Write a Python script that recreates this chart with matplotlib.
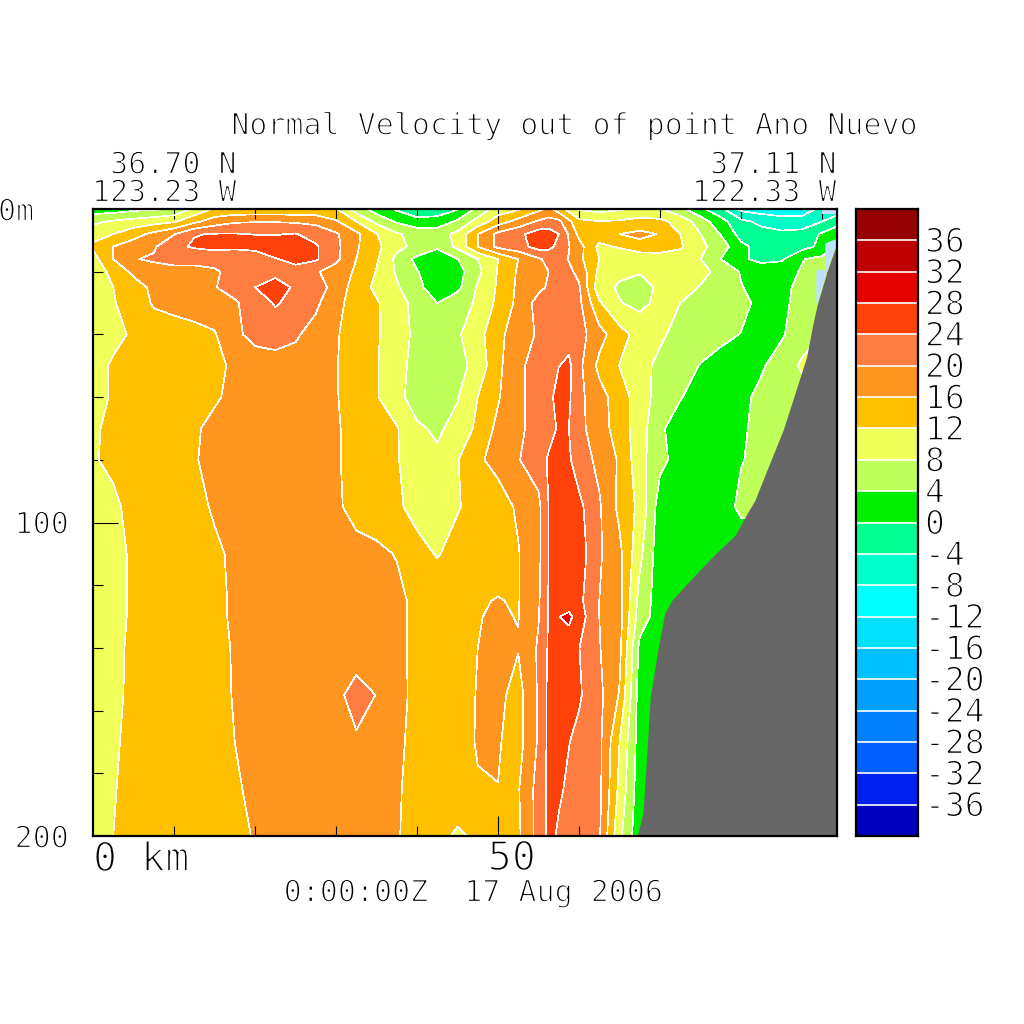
import numpy as np
import matplotlib
matplotlib.use("Agg")
import matplotlib.pyplot as plt
import matplotlib.patheffects as pe
from matplotlib.colors import ListedColormap, BoundaryNorm

# section axes
km = [0, 2.5, 5, 7.5, 10, 12.5, 15, 17.5, 20, 22.5, 25, 27.5, 30, 32.5, 35, 37.5, 40, 42.5, 45, 47.5,
      50, 52.5, 55, 56.25, 57.5, 58.75, 60, 62.5, 65, 67.5, 70, 72.5, 75, 77.5, 80, 82.5, 85, 87.5, 90, 91.85]
depth = [0, 4, 8, 12, 16, 20, 25, 30, 40, 50, 60, 70, 80, 95, 110, 125, 130, 140, 155, 170, 185, 200]

# normal velocity, one list per depth
v0 = [2, 2, 3, 3.5, 4.5, 9, 12.5, 13, 13, 13, 13, 13, 12.3, 6, 2, -0.5, -3, -2, -0.3, 5, 10, 11.5, 15,
      17, 14, 10.5, 7.5, 6.5, 7.5, 9, 8.3, 5, 1, -3, -9, -10, -10, -10, -7, -6]
v4 = [7, 8.5, 9.5, 10.5, 11.5, 15, 18, 19.5, 19.8, 19.8, 19.5, 19, 16.5, 12, 7, 3.5, 1.5, 1.5, 4.7, 9.5, 14, 17.5, 20.5,
      21.5, 21, 17, 13, 12.2, 12.5, 13.3, 13, 10.5, 6, 1.5, -3, -5, -6.5, -6.5, -4, -2]
v8 = [11, 12, 14.5, 17, 19.8, 23.8, 24.2, 24.2, 23.9, 23.8, 24.2, 22.5, 20.5, 17, 12.2, 8.5, 6.5, 6.5, 9, 16, 21, 23, 26,
      26, 24, 19.5, 15, 14.5, 16, 17, 15.8, 12, 8, 3.8, -1.5, -2.5, -3, -2.5, 0.5, 3]
v12 = [12.5, 16, 18, 19.5, 23, 24.5, 25.5, 25, 25.5, 26, 26, 24.5, 21, 16.5, 13, 9, 7, 4.5, 9, 16, 21, 22.5, 25.5,
       25, 23, 20.2, 17.5, 11, 12.5, 14.5, 14, 12.5, 9, 6, 1, -1.5, -2, -1.5, 1, 4]
v16 = [10.5, 16, 19.8, 20.5, 21, 20.5, 20.5, 20.5, 21, 23.8, 24.8, 24.5, 21, 16, 12.5, 7, 3, 2, 3.9, 7.9, 12, 16, 19.5,
       21, 21.5, 19.8, 17, 12, 8, 9, 10, 10, 8, 4, 1, -1.5, -0.5, 3.8, 5, 5]
v20 = [10, 13, 17, 18.5, 19, 19.5, 19.8, 20.5, 22, 23, 23, 20.5, 18, 15.5, 11.8, 7.5, 4.2, 2, 2.5, 7, 12.3, 16.5, 19,
       20, 21.5, 20.8, 19, 11, 8.8, 8.2, 9, 10, 9, 7, 3.7, 3.3, 2.5, 4.3, 5, 5]
v25 = [9.5, 12, 14, 17, 18, 19, 19.8, 21.5, 24, 25.5, 23.5, 22.5, 18, 14.5, 11, 8.5, 5, 2, 3, 8.5, 12.5, 16.8, 19,
       20.5, 22, 21, 20.5, 9.5, 7.5, 7, 8.5, 9.5, 7.8, 5.5, 4.2, 2.5, 3, 5, 6, 6]
v30 = [10, 11.8, 13.3, 16.5, 17, 17.5, 18, 19.5, 22, 24.3, 23, 20.8, 17, 14.5, 12.5, 9.2, 7, 4, 6.5, 8.5, 13, 17, 21.5,
       22.5, 23, 22.5, 21, 12.5, 8.2, 7, 9, 8, 7, 6, 5, 3, 3, 5.5, 6, 6]
v40 = [10, 11, 12.5, 13.5, 14.5, 15, 15.7, 19, 21.5, 22, 20.5, 18.5, 16.3, 14.5, 12.5, 9.5, 7.2, 6.5, 7.5, 10.5, 15, 18, 20.5,
       22, 23, 22.5, 21.5, 17.5, 13.5, 10.5, 8.5, 7, 6, 5, 3.9, 2.5, 3.5, 6.5, 8, 8]
v50 = [10.5, 12.5, 13, 13.5, 13.8, 14.5, 15.3, 16.5, 17.5, 18, 18.5, 17.5, 16.2, 14, 12.3, 9, 7, 6.5, 6.5, 9.5, 15, 19.5, 21,
       22.5, 23.9, 24.8, 21, 15, 11.9, 9, 7.3, 6, 3.8, 2.5, 2, 3.5, 6, 8.5, 9, 9]
v60 = [11, 12.3, 13, 13.5, 14, 14.5, 15.5, 17, 18, 18.5, 18.5, 17.5, 16.2, 14.5, 12.3, 9, 6.5, 6, 7.8, 12, 15.6, 19.5, 21,
       22.5, 26, 24.6, 21, 17.5, 14, 10, 6.3, 4.2, 2.5, 2, 3, 5, 6, 6.5, 6.5, 6.5]
v70 = [11.7, 12.5, 13, 13.5, 14, 15.5, 17, 17.5, 18.5, 19, 19, 18, 16.3, 15, 14.2, 12.3, 8.5, 7.5, 9, 13, 17, 19.5, 21,
       22.5, 24.5, 24, 21, 18, 14, 10, 4.5, 2.5, 1.8, 2.2, 3.5, 5, 6, 6, 6, 6]
v80 = [11.8, 12.5, 13, 13.5, 14.5, 15.8, 16.8, 17.5, 18.5, 19, 19, 18, 16.3, 15, 14, 12.2, 10.5, 8.6, 11.8, 15.5, 17, 19.8, 22,
       24.5, 25, 24.5, 22, 19, 15.5, 9.5, 5, 2.5, 2, 3, 3.8, 5, 5.5, 5.5, 5.5, 5.5]
v95 = [10, 11.5, 12.8, 13.5, 14.5, 15.5, 16.2, 17, 18, 18.5, 18.5, 18, 16.5, 15, 14, 12.5, 11, 10.5, 11.8, 13, 14.5, 16.5, 19,
       24, 25.5, 25.5, 25, 20.5, 15, 11, 2, 2, 1.5, 2, 4.9, 5.5, 5.5, 5.5, 5.5, 5.5]
v110 = [10, 11, 12.5, 13.5, 14, 15, 15.7, 16.3, 17, 17.5, 18, 18, 17.5, 17, 16.8, 15.8, 13, 11.8, 13, 14, 15, 15.8, 19,
        24, 26, 26, 26, 20.5, 17, 9, 1.5, 1.5, 1.5, 1, 1, 1, 1, 1, 1, 1]
v125 = [10, 11, 12.5, 13.5, 14, 14.8, 15.5, 16.3, 17, 17.5, 18, 18, 18, 18, 18, 17, 15, 14, 14.5, 15.8, 16.1, 15.8, 19.5,
        24.2, 26, 25.5, 25, 20, 17.5, 6.5, 2, 1, 1, 1, 1, 1, 1, 1, 1, 1]
v130 = [10, 11, 12.5, 13.5, 14, 14.8, 15.5, 16.3, 17, 17.5, 18, 18, 18, 18, 18, 17, 15, 14, 14.5, 15.9, 16.3, 15.9, 19.8,
        24.3, 27.9, 29, 26, 20, 17.5, 6, 2, 1, 1, 1, 1, 1, 1, 1, 1, 1]
v140 = [10, 11, 12.8, 13.5, 14, 14.5, 15.3, 16.2, 17, 17.5, 18, 18, 18, 18, 18, 17, 15, 14, 14.5, 16, 16.6, 16.2, 20.5,
        24.5, 26, 25.5, 24.1, 20.2, 17, 3, 0.5, 1, 1, 1, 1, 1, 1, 1, 1, 1]
v155 = [10, 11, 13, 14, 14.5, 15, 15.5, 16.1, 17, 17.5, 18, 18.5, 19, 21.5, 19.9, 17.5, 14.7, 14, 14.5, 16.2, 17, 14.5, 20.5,
        25, 26, 25, 24.5, 21, 15.7, 2, 1, 1, 1, 1, 1, 1, 1, 1, 1, 1]
v170 = [10, 11.5, 13, 14, 14.5, 15, 15.4, 16, 16.8, 17.3, 17.7, 18, 18.5, 19.5, 19, 17, 14.5, 14, 14.5, 16.3, 16.3, 14.5, 20.5,
        25, 25.5, 24.1, 23, 21, 12, 2, 1, 1, 1, 1, 1, 1, 1, 1, 1, 1]
v185 = [10, 11.8, 13, 14, 14.5, 15, 15.3, 15.7, 16.5, 17, 17.5, 18, 18, 18, 17.8, 16.5, 14.5, 14, 14, 15.7, 15.95, 15.7, 21.5,
        24.8, 24.5, 23.4, 22.5, 21, 11, 1.5, 1, 1, 1, 1, 1, 1, 1, 1, 1, 1]
v200 = [10, 12, 13.5, 14, 14.5, 15, 15.3, 15.6, 16.1, 17, 17.5, 18, 18, 18, 17.5, 16.3, 14.5, 13, 11.5, 12.5, 13.5, 15.3, 21.5,
        25, 23.5, 23, 22, 20.5, 9, 1, 1, 1, 1, 1, 1, 1, 1, 1, 1, 1]
velocity = np.array([v0, v4, v8, v12, v16, v20, v25, v30, v40, v50, v60, v70, v80, v95, v110,
                     v125, v130, v140, v155, v170, v185, v200])

# sea floor
bottom_km = [67.2, 67.9, 68.4, 68.8, 69.8, 70.6, 71.5, 74.6, 77, 79.3, 80.5, 81.7, 83.2, 85.2, 86.4, 88.1, 88.8, 89.4, 90.6, 91.85]
bottom_depth = [200, 192.7, 172.6, 155.6, 139.7, 128.9, 124.7, 116, 109.6, 104, 98.3, 93, 83.3, 70.5, 60.9, 47.2, 37.6, 30.6, 20.1, 10.9]

# pale cells next to the slope
pale_km = [91.85, 90.4, 90.4, 89.3, 89.3, 89.4, 90.6, 91.85]
pale_depth = [9.5, 11, 19.5, 19.5, 30, 30.6, 20.1, 10.9]
pale_top_km = [90, 91.85, 91.85, 90]
pale_top_depth = [0, 0, 1.5, 1.5]

levels = list(range(-40, 44, 4))
colors = ["#0000BE", "#0020F0", "#0060FF", "#0080FF", "#00A0FF", "#00C0FF", "#00E0FF", "#00FFFF", "#00FFC8", "#00FF90",
          "#00F000", "#BEFF5A", "#F0FF5A", "#FFC000", "#FF9620", "#FF7D41", "#FF410A", "#E60000", "#BE0000", "#960000"]
bar_labels = list(range(-36, 40, 4))

W = 1024
cmap = ListedColormap(colors)
norm = BoundaryNorm(levels, cmap.N)


def label(x, y, s, px=30, ha="left", thin=1.0):
    # vector-font look: mono glyphs eroded with a white outline
    fig.text(x / W, 1 - y / W, s, family="DejaVu Sans Mono", fontsize=px * 0.72, ha=ha, va="center",
             color="black", path_effects=[pe.Stroke(linewidth=thin, foreground="white")])


fig = plt.figure(figsize=(10.24, 10.24), dpi=100, facecolor="white")
ax = fig.add_axes([93 / W, 1 - 836 / W, 744 / W, 627 / W])
ax.contourf(km, depth, velocity, levels=levels, cmap=cmap, norm=norm, antialiased=False)
ax.contour(km, depth, velocity, levels=levels, colors="white", linewidths=0.5, linestyles="solid", antialiased=False)
ax.fill(pale_km, pale_depth, color="#C0E0FF", lw=0, zorder=3)
ax.fill(pale_top_km, pale_top_depth, color="#C0E0FF", lw=0, zorder=3)
ax.fill_between(bottom_km, bottom_depth, 200, color="#666666", lw=0, zorder=4)
ax.set_xlim(0, 91.85)
ax.set_ylim(200, 0)
ax.set_xticks([50])
ax.set_xticks(range(10, 100, 10), minor=True)
ax.set_yticks([100])
ax.set_yticks(range(20, 200, 20), minor=True)
ax.tick_params(which="major", direction="in", top=True, right=True, length=0, labelleft=False, labelbottom=False)
ax.tick_params(axis="x", which="major", length=14.4, width=0.8)
ax.tick_params(axis="y", which="major", length=18, width=0.8)
ax.tick_params(which="minor", direction="in", top=True, right=True, length=7.2, width=0.8)
for s in ax.spines.values():
    s.set_linewidth(1.6)
    s.set_zorder(6)

cax = fig.add_axes([856 / W, 1 - 836 / W, 62 / W, 627 / W])
cax.pcolormesh([0, 1], levels, np.array(levels[:-1]).reshape(-1, 1) + 2, cmap=cmap, norm=norm)
cax.hlines(levels[1:-1], 0, 1, color="white", lw=1.2)
cax.set_xlim(0, 1)
cax.set_ylim(-40, 40)
cax.set_xticks([])
cax.set_yticks([])
for s in cax.spines.values():
    s.set_linewidth(1.6)

for v in bar_labels:
    label(925, 211 + (40 - v) * 627 / 80, str(v), px=33)

label(920, 126, "Normal Velocity out of point Ano Nuevo", ha="right")
label(237, 165, "36.70 N", ha="right")
label(237, 193, "123.23 W", ha="right")
label(837, 165, "37.11 N", ha="right")
label(837, 193, "122.33 W", ha="right")
label(-2, 212, "0m")
label(69, 525, "100", ha="right")
label(69, 839, "200", ha="right")
label(93, 860, "0 km", px=40, thin=1.3)
label(536, 859, "50", px=40, ha="right", thin=1.3)
label(474, 893, "0:00:00Z  17 Aug 2006", ha="center")

fig.savefig("out.png", dpi=100)
